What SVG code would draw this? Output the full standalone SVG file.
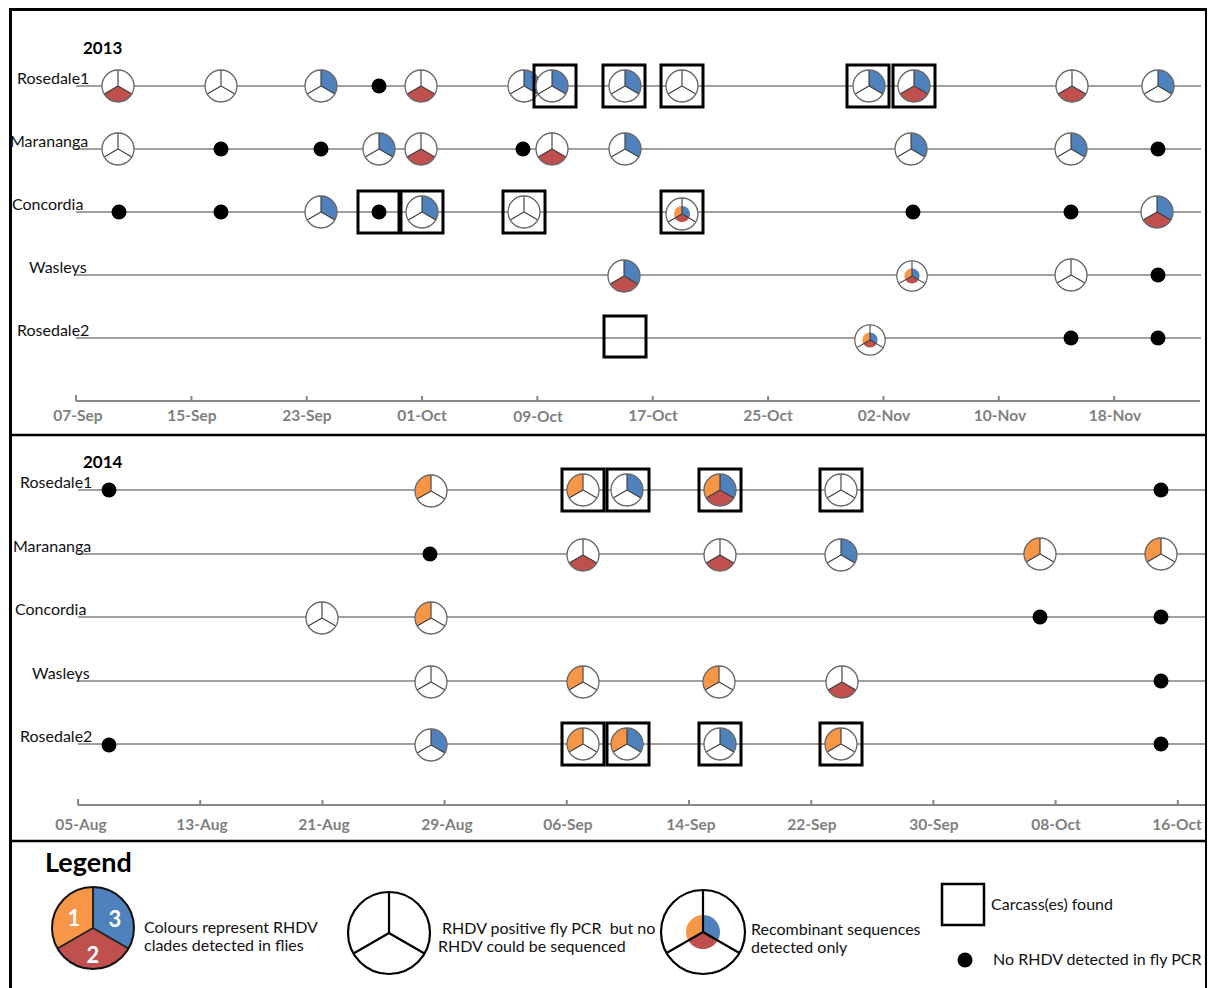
<svg xmlns="http://www.w3.org/2000/svg" width="1209" height="988" viewBox="0 0 1209 988">
<style>
.lbl{font-family:Lato,"Liberation Sans",sans-serif;font-size:16px;fill:#111}
.yr{font-family:Lato,"Liberation Sans",sans-serif;font-size:17px;font-weight:bold;fill:#000}
.tick{font-family:Lato,"Liberation Sans",sans-serif;font-size:15.5px;font-weight:bold;fill:#7f7f7f;text-anchor:middle}
.leg{font-family:Lato,"Liberation Sans",sans-serif;font-size:16px;fill:#111}
.row{stroke:#a0a0a0;stroke-width:2;fill:none}
.axis{stroke:#888;stroke-width:2;fill:none}
.box{fill:none;stroke:#000;stroke-width:3}
.frm{stroke:#000;fill:none}
.num{font-family:Lato,"Liberation Sans",sans-serif;font-size:22px;font-weight:bold;fill:#fff;text-anchor:middle}
</style>
<defs>
<path id="s1" d="M0,0 L-13.856,8 A16,16 0 0 1 0,-16 Z" fill="#F79646"/>
<path id="s2" d="M0,0 L13.856,8 A16,16 0 0 1 -13.856,8 Z" fill="#C0504D"/>
<path id="s3" d="M0,0 L0,-16 A16,16 0 0 1 13.856,8 Z" fill="#4F81BD"/>
<circle id="bg" r="16" fill="#fff"/>
<g id="fr"><path d="M0,-16V0L13.856,8M0,0L-13.856,8" stroke="#3a3a3a" stroke-width="1.1" fill="none"/><circle r="16" fill="none" stroke="#666" stroke-width="1.3"/></g>
<g id="pW"><use href="#bg"/><use href="#fr"/></g>
<g id="p1"><use href="#bg"/><use href="#s1"/><use href="#fr"/></g>
<g id="p2"><use href="#bg"/><use href="#s2"/><use href="#fr"/></g>
<g id="p3"><use href="#bg"/><use href="#s3"/><use href="#fr"/></g>
<g id="p13"><use href="#bg"/><use href="#s1"/><use href="#s3"/><use href="#fr"/></g>
<g id="p23"><use href="#bg"/><use href="#s2"/><use href="#s3"/><use href="#fr"/></g>
<g id="p123"><use href="#bg"/><use href="#s1"/><use href="#s2"/><use href="#s3"/><use href="#fr"/></g>
<g id="pR"><use href="#bg"/>
<path d="M0,0 L-6.928,4 A8,8 0 0 1 0,-8 Z" fill="#F79646"/>
<path d="M0,0 L6.928,4 A8,8 0 0 1 -6.928,4 Z" fill="#C0504D"/>
<path d="M0,0 L0,-8 A8,8 0 0 1 6.928,4 Z" fill="#4F81BD"/>
<use href="#fr"/></g>
<circle id="d" r="7.5" fill="#000"/>
</defs>
<rect width="1209" height="988" fill="#fff"/>

<g id="frame">
<line class="frm" x1="10.5" y1="8" x2="10.5" y2="988" stroke-width="3"/>
<line class="frm" x1="9" y1="9.5" x2="1207" y2="9.5" stroke-width="3"/>
<line class="frm" x1="1206" y1="8" x2="1206" y2="988" stroke-width="2"/>
<line class="frm" x1="9" y1="435" x2="1207" y2="435" stroke-width="2.5"/>
<line class="frm" x1="9" y1="841" x2="1207" y2="841" stroke-width="2.5"/>
</g>

<g id="axis2013">
<path class="axis" d="M76,401H1200M76,395V401M191.4,396V401M306.7,396V401M422,396V401M537.4,396V401M652.8,396V401M768.1,396V401M883.5,396V401M998.8,396V401M1114.2,396V401"/>
<text class="tick" x="78" y="421">07-Sep</text>
<text class="tick" x="192" y="421">15-Sep</text>
<text class="tick" x="307" y="421">23-Sep</text>
<text class="tick" x="422" y="421">01-Oct</text>
<text class="tick" x="538" y="422">09-Oct</text>
<text class="tick" x="653" y="421">17-Oct</text>
<text class="tick" x="768" y="421">25-Oct</text>
<text class="tick" x="884" y="421">02-Nov</text>
<text class="tick" x="1000" y="421">10-Nov</text>
<text class="tick" x="1115" y="421">18-Nov</text>
</g>
<g id="axis2014">
<path class="axis" d="M78,805H1205M78,799V805M200.2,800V805M322.4,800V805M444.6,800V805M566.8,800V805M689,800V805M811.2,800V805M933.4,800V805M1055.6,800V805M1177.8,800V805"/>
<text class="tick" x="81" y="830">05-Aug</text>
<text class="tick" x="202" y="830">13-Aug</text>
<text class="tick" x="324" y="830">21-Aug</text>
<text class="tick" x="447" y="830">29-Aug</text>
<text class="tick" x="568" y="830">06-Sep</text>
<text class="tick" x="691" y="830">14-Sep</text>
<text class="tick" x="812" y="830">22-Sep</text>
<text class="tick" x="934" y="830">30-Sep</text>
<text class="tick" x="1056" y="830">08-Oct</text>
<text class="tick" x="1177" y="830">16-Oct</text>
</g>

<g id="connectors">
<path class="row" d="M76,86H1201M76,149H1201M76,212H1201M76,275H1201M76,338H1201"/>
<path class="row" d="M78,490H1205M78,554H1205M78,617H1205M78,681H1205M78,744H1205"/>
</g>

<g id="labels">
<text class="yr" x="83" y="54">2013</text>
<text class="lbl" x="17" y="84">Rosedale1</text>
<text class="lbl" x="10" y="147">Marananga</text>
<text class="lbl" x="12" y="210">Concordia</text>
<text class="lbl" x="29" y="273">Wasleys</text>
<text class="lbl" x="17" y="336">Rosedale2</text>
<text class="yr" x="83" y="468">2014</text>
<text class="lbl" x="20" y="488">Rosedale1</text>
<text class="lbl" x="13" y="552">Marananga</text>
<text class="lbl" x="15" y="615">Concordia</text>
<text class="lbl" x="32" y="679">Wasleys</text>
<text class="lbl" x="20" y="742">Rosedale2</text>
</g>

<g id="a-r1-1"><use href="#p2" x="118" y="86"/></g>
<g id="a-r1-2"><use href="#pW" x="221" y="86"/></g>
<g id="a-r1-3"><use href="#p3" x="321" y="86"/></g>
<g id="a-r1-4"><use href="#d" x="379" y="86"/></g>
<g id="a-r1-5"><use href="#p2" x="421" y="86"/></g>
<g id="a-r1-6"><use href="#p3" x="524" y="86"/></g>
<g id="a-r1-7"><rect class="box" x="534" y="65" width="42" height="42"/><use href="#p3" x="552" y="86"/></g>
<g id="a-r1-8"><rect class="box" x="603" y="65" width="42" height="42"/><use href="#p3" x="625" y="86"/></g>
<g id="a-r1-9"><rect class="box" x="661" y="65" width="42" height="42"/><use href="#pW" x="682" y="86"/></g>
<g id="a-r1-10"><rect class="box" x="847" y="65" width="42" height="42"/><use href="#p3" x="869" y="86"/></g>
<g id="a-r1-11"><rect class="box" x="893" y="65" width="42" height="42"/><use href="#p23" x="914" y="86"/></g>
<g id="a-r1-12"><use href="#p2" x="1072" y="86"/></g>
<g id="a-r1-13"><use href="#p3" x="1158" y="86"/></g>

<g id="a-ma-1"><use href="#pW" x="118" y="149"/></g>
<g id="a-ma-2"><use href="#d" x="221" y="149"/></g>
<g id="a-ma-3"><use href="#d" x="321" y="149"/></g>
<g id="a-ma-4"><use href="#p3" x="379" y="149"/></g>
<g id="a-ma-5"><use href="#p2" x="421" y="149"/></g>
<g id="a-ma-6"><use href="#d" x="523" y="149"/></g>
<g id="a-ma-7"><use href="#p2" x="552" y="149"/></g>
<g id="a-ma-8"><use href="#p3" x="625" y="149"/></g>
<g id="a-ma-9"><use href="#p3" x="911" y="149"/></g>
<g id="a-ma-10"><use href="#p3" x="1071" y="149"/></g>
<g id="a-ma-11"><use href="#d" x="1158" y="149"/></g>

<g id="a-co-1"><use href="#d" x="119" y="212"/></g>
<g id="a-co-2"><use href="#d" x="221" y="212"/></g>
<g id="a-co-3"><use href="#p3" x="321" y="212"/></g>
<g id="a-co-4"><rect class="box" x="358" y="191" width="41" height="42"/><use href="#d" x="379" y="212"/></g>
<g id="a-co-5"><rect class="box" x="401" y="191" width="42" height="42"/><use href="#p3" x="422" y="212"/></g>
<g id="a-co-6"><rect class="box" x="503" y="191" width="42" height="42"/><use href="#pW" x="524" y="212"/></g>
<g id="a-co-7"><rect class="box" x="661" y="191" width="42" height="42"/><use href="#pR" x="682" y="214"/></g>
<g id="a-co-8"><use href="#d" x="913" y="212"/></g>
<g id="a-co-9"><use href="#d" x="1071" y="212"/></g>
<g id="a-co-10"><use href="#p23" x="1157" y="212"/></g>

<g id="a-wa-1"><use href="#p23" x="624" y="276"/></g>
<g id="a-wa-2"><use href="#pR" x="912" y="276" transform="translate(912 276) scale(0.95) translate(-912 -276)"/></g>
<g id="a-wa-3"><use href="#pW" x="1071" y="275"/></g>
<g id="a-wa-4"><use href="#d" x="1158" y="275"/></g>

<g id="a-r2-1"><rect class="box" x="604" y="316" width="42" height="41"/></g>
<g id="a-r2-2"><use href="#pR" x="870" y="340" transform="translate(870 340) scale(0.95) translate(-870 -340)"/></g>
<g id="a-r2-3"><use href="#d" x="1071" y="338"/></g>
<g id="a-r2-4"><use href="#d" x="1158" y="338"/></g>

<g id="b-r1-1"><use href="#d" x="109" y="490"/></g>
<g id="b-r1-2"><use href="#p1" x="431" y="491"/></g>
<g id="b-r1-3"><rect class="box" x="562" y="469" width="42" height="42"/><use href="#p1" x="583" y="490"/></g>
<g id="b-r1-4"><rect class="box" x="607" y="469" width="42" height="42"/><use href="#p3" x="627" y="490"/></g>
<g id="b-r1-5"><rect class="box" x="699" y="469" width="42" height="42"/><use href="#p123" x="720" y="490"/></g>
<g id="b-r1-6"><rect class="box" x="820" y="469" width="42" height="42"/><use href="#pW" x="841" y="490"/></g>
<g id="b-r1-7"><use href="#d" x="1161" y="490"/></g>

<g id="b-ma-1"><use href="#d" x="430" y="554"/></g>
<g id="b-ma-2"><use href="#p2" x="583" y="555"/></g>
<g id="b-ma-3"><use href="#p2" x="720" y="555"/></g>
<g id="b-ma-4"><use href="#p3" x="841" y="555"/></g>
<g id="b-ma-5"><use href="#p1" x="1040" y="554"/></g>
<g id="b-ma-6"><use href="#p1" x="1161" y="554"/></g>

<g id="b-co-1"><use href="#pW" x="322" y="618"/></g>
<g id="b-co-2"><use href="#p1" x="431" y="618"/></g>
<g id="b-co-3"><use href="#d" x="1040" y="617"/></g>
<g id="b-co-4"><use href="#d" x="1161" y="617"/></g>

<g id="b-wa-1"><use href="#pW" x="431" y="682"/></g>
<g id="b-wa-2"><use href="#p1" x="583" y="682"/></g>
<g id="b-wa-3"><use href="#p1" x="719" y="682"/></g>
<g id="b-wa-4"><use href="#p2" x="842" y="682"/></g>
<g id="b-wa-5"><use href="#d" x="1161" y="681"/></g>

<g id="b-r2-1"><use href="#d" x="109" y="745"/></g>
<g id="b-r2-2"><use href="#p3" x="431" y="745"/></g>
<g id="b-r2-3"><rect class="box" x="562" y="723" width="42" height="42"/><use href="#p1" x="583" y="744"/></g>
<g id="b-r2-4"><rect class="box" x="607" y="723" width="42" height="42"/><use href="#p13" x="627" y="744"/></g>
<g id="b-r2-5"><rect class="box" x="699" y="723" width="42" height="42"/><use href="#p3" x="720" y="744"/></g>
<g id="b-r2-6"><rect class="box" x="820" y="723" width="42" height="42"/><use href="#p1" x="841" y="744"/></g>
<g id="b-r2-7"><use href="#d" x="1161" y="744"/></g>

<g id="legend-title"><text x="45" y="872" font-family="Lato, 'Liberation Sans', sans-serif" font-size="27" font-weight="bold" fill="#000">Legend</text></g>
<g id="legend-clades">
<circle cx="93" cy="928" r="41" fill="#fff"/>
<path d="M93,928 L57.5,948.5 A41,41 0 0 1 93,887 Z" fill="#F79646"/>
<path d="M93,928 L128.5,948.5 A41,41 0 0 1 57.5,948.5 Z" fill="#C0504D"/>
<path d="M93,928 L93,887 A41,41 0 0 1 128.5,948.5 Z" fill="#4F81BD"/>
<path d="M93,887V928L128.5,948.5M93,928L57.5,948.5" stroke="#222" stroke-width="2" fill="none"/>
<circle cx="93" cy="928" r="41" fill="none" stroke="#111" stroke-width="2"/>
<text class="num" x="74" y="926">1</text>
<text class="num" x="115" y="927">3</text>
<text class="num" x="93" y="963">2</text>
<text class="leg" x="144" y="933">Colours represent RHDV</text>
<text class="leg" x="144" y="951">clades detected in flies</text>
</g>
<g id="legend-positive">
<circle cx="389" cy="933" r="41" fill="#fff" stroke="#000" stroke-width="2.2"/>
<path d="M389,892V933L424.5,953.5M389,933L353.5,953.5" stroke="#000" stroke-width="2.2" fill="none"/>
<text class="leg" x="438" y="934" xml:space="preserve"> RHDV positive fly PCR  but no</text>
<text class="leg" x="438" y="952">RHDV could be sequenced</text>
</g>
<g id="legend-recombinant">
<circle cx="703" cy="932" r="42" fill="#fff"/>
<path d="M703,932 L688.3,940.5 A17,17 0 0 1 703,915 Z" fill="#F79646"/>
<path d="M703,932 L717.7,940.5 A17,17 0 0 1 688.3,940.5 Z" fill="#C0504D"/>
<path d="M703,932 L703,915 A17,17 0 0 1 717.7,940.5 Z" fill="#4F81BD"/>
<path d="M703,890V932L739.4,953M703,932L666.6,953" stroke="#000" stroke-width="2.2" fill="none"/>
<circle cx="703" cy="932" r="42" fill="none" stroke="#000" stroke-width="2.2"/>
<text class="leg" x="751" y="935">Recombinant sequences</text>
<text class="leg" x="751" y="953">detected only</text>
</g>
<g id="legend-carcass">
<rect x="942" y="884" width="42" height="41" fill="none" stroke="#000" stroke-width="2.5"/>
<text class="leg" x="991" y="910">Carcass(es) found</text>
</g>
<g id="legend-none">
<circle cx="965" cy="960" r="7.5" fill="#000"/>
<text class="leg" x="993" y="965">No RHDV detected in fly PCR</text>
</g>
</svg>
